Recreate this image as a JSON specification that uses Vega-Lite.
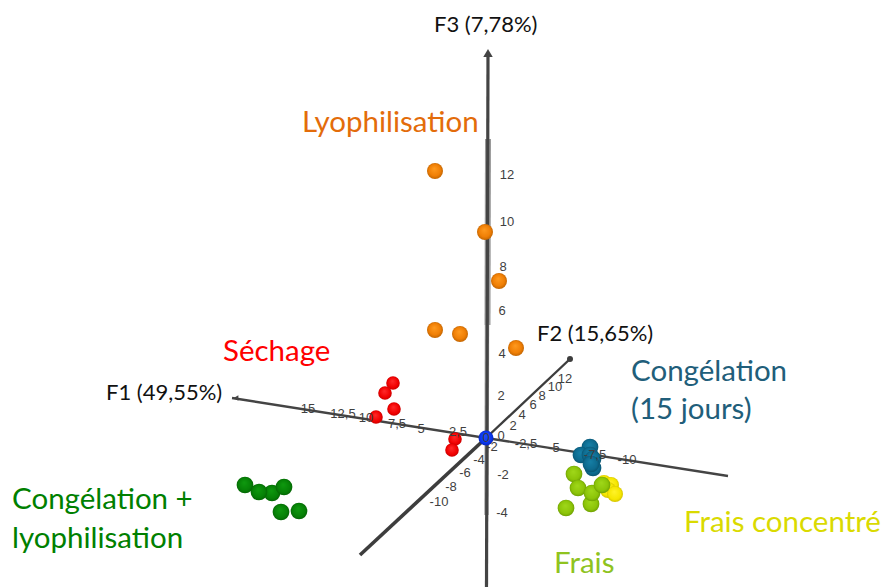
{
"$schema":"https://vega.github.io/schema/vega-lite/v6.json",
"width":881,"height":587,"padding":0,
"autosize":{"type":"none"},
"background":"white",
"config":{"view":{"stroke":null}},
"datasets":{
"points":[
{"g":"Lyophilisation","h":435,"v":171},{"g":"Lyophilisation","h":485,"v":232},{"g":"Lyophilisation","h":499,"v":281},{"g":"Lyophilisation","h":435,"v":330},{"g":"Lyophilisation","h":460,"v":334},{"g":"Lyophilisation","h":516,"v":348},
{"g":"Séchage","h":393,"v":383},{"g":"Séchage","h":385,"v":393},{"g":"Séchage","h":394,"v":409},{"g":"Séchage","h":376,"v":417},{"g":"Séchage","h":455,"v":439},{"g":"Séchage","h":452,"v":450},
{"g":"CL","h":272,"v":493},{"g":"CL","h":245,"v":485},{"g":"CL","h":259,"v":492},{"g":"CL","h":284,"v":487},{"g":"CL","h":281,"v":512},{"g":"CL","h":299,"v":511},
{"g":"C15","h":590,"v":447},{"g":"C15","h":581,"v":455},{"g":"C15","h":590,"v":455},{"g":"C15","h":593,"v":468},{"g":"C15","h":593,"v":459},{"g":"C15","h":591,"v":464},
{"g":"FC","h":604,"v":483},{"g":"FC","h":611,"v":485},{"g":"FC","h":608,"v":490},{"g":"FC","h":615,"v":494},
{"g":"Frais","h":574,"v":474},{"g":"Frais","h":578,"v":488},{"g":"Frais","h":591,"v":504},{"g":"Frais","h":592,"v":493},{"g":"Frais","h":602,"v":485},{"g":"Frais","h":566,"v":508},
{"g":"Origine","h":486,"v":438}
],
"axes":[
{"a":"F1","h":232,"v":398},{"a":"F1","h":728,"v":476},
{"a":"F2f","h":360,"v":555},{"a":"F2f","h":486,"v":438},
{"a":"F2b","h":486,"v":438},{"a":"F2b","h":570,"v":359},
{"a":"F3","h":488,"v":56},{"a":"F3","h":486.5,"v":587},
{"a":"F3w","h":488,"v":139},{"a":"F3w","h":487.5,"v":325},
{"a":"F3x","h":487,"v":325},{"a":"F3x","h":486.5,"v":515}
],
"ticks":[
{"t":"15","h":308,"v":409},{"t":"12,5","h":343,"v":414},{"t":"10","h":366,"v":418},{"t":"7,5","h":397,"v":424},{"t":"5","h":421,"v":429},{"t":"2,5","h":458,"v":432},{"t":"0","h":486,"v":438},
{"t":"-2,5","h":526,"v":444},{"t":"-5","h":554,"v":448},{"t":"-7,5","h":595,"v":455},{"t":"-10","h":627,"v":460},
{"t":"0","h":501,"v":436},{"t":"2","h":513,"v":426},{"t":"4","h":522,"v":415},{"t":"6","h":533,"v":405},{"t":"8","h":542,"v":396},{"t":"10","h":555,"v":387},{"t":"12","h":565,"v":379},
{"t":"-2","h":492,"v":447},{"t":"-4","h":479,"v":460},{"t":"-6","h":465,"v":473},{"t":"-8","h":451,"v":487},{"t":"-10","h":439,"v":502},
{"t":"12","h":507,"v":175},{"t":"10","h":507,"v":222},{"t":"8","h":503,"v":267},{"t":"6","h":502,"v":311},{"t":"4","h":502,"v":354},{"t":"2","h":501,"v":396},{"t":"-2","h":503,"v":475},{"t":"-4","h":502,"v":513}
],
"titles":[
{"t":"F3 (7,78%)","h":434,"v":25},{"t":"F2 (15,65%)","h":537,"v":334},{"t":"F1 (49,55%)","h":106,"v":393}
],
"groups":[
{"t":"Lyophilisation","g":"Lyo","h":302,"v":123},
{"t":"Séchage","g":"Sec","h":223,"v":352},
{"t":"Congélation","g":"C15","h":631,"v":372},
{"t":"(15 jours)","g":"C15","h":631,"v":410},
{"t":"Congélation +","g":"CL","h":12,"v":500},
{"t":"lyophilisation","g":"CL","h":12,"v":539},
{"t":"Frais concentré","g":"FC","h":684,"v":523},
{"t":"Frais","g":"Fr","h":554,"v":564}
],
"arrows":[{"a":"F3","h":488,"v":53}],
"arrowsL":[{"a":"F1","h":236,"v":398}],
"ends":[{"a":"F2","h":570,"v":359}]
},
"encoding":{
"x":{"field":"h","type":"quantitative","scale":{"domain":[0,881],"nice":false,"zero":false},"axis":null},
"y":{"field":"v","type":"quantitative","scale":{"domain":[587,0],"nice":false,"zero":false},"axis":null}
},
"layer":[
{"data":{"name":"axes"},"transform":[{"filter":"datum.a==='F3w'"}],"mark":{"type":"line","stroke":"#9a9a9a","strokeWidth":6}},
{"data":{"name":"axes"},"transform":[{"filter":"datum.a==='F3x'"}],"mark":{"type":"line","stroke":"#a8a8a8","strokeWidth":4.5}},
{"data":{"name":"axes"},"transform":[{"filter":"datum.a==='F3'"}],"mark":{"type":"line","stroke":"#444444","strokeWidth":3.2}},
{"data":{"name":"axes"},"transform":[{"filter":"datum.a==='F1'"}],"mark":{"type":"line","stroke":"#444444","strokeWidth":2.4}},
{"data":{"name":"axes"},"transform":[{"filter":"datum.a==='F2f'"}],"mark":{"type":"line","stroke":"#3d3d3d","strokeWidth":3.6}},
{"data":{"name":"axes"},"transform":[{"filter":"datum.a==='F2b'"}],"mark":{"type":"line","stroke":"#3d3d3d","strokeWidth":2.4}},
{"data":{"name":"arrows"},"mark":{"type":"point","shape":"triangle-up","filled":true,"fill":"#444444","stroke":null,"opacity":1,"size":90}},
{"data":{"name":"arrowsL"},"mark":{"type":"point","shape":"triangle-left","filled":true,"fill":"#444444","stroke":null,"opacity":1,"size":30}},
{"data":{"name":"ends"},"mark":{"type":"point","shape":"circle","filled":true,"fill":"#3d3d3d","stroke":null,"opacity":1,"size":36}},
{"data":{"name":"points"},"transform":[{"filter":"datum.g==='Lyophilisation'"}],"mark":{"type":"point","shape":"circle","filled":true,"opacity":1,"stroke":null,"size":256,"fill":{"gradient":"radial","x1":0.45,"y1":0.35,"r1":0,"x2":0.5,"y2":0.5,"r2":0.55,"stops":[{"offset":0,"color":"#ff9a1f"},{"offset":0.65,"color":"#f07f05"},{"offset":1,"color":"#b85f00"}]}}},
{"data":{"name":"points"},"transform":[{"filter":"datum.g==='Séchage'"}],"mark":{"type":"point","shape":"circle","filled":true,"opacity":1,"stroke":null,"size":185,"fill":{"gradient":"radial","x1":0.45,"y1":0.35,"r1":0,"x2":0.5,"y2":0.5,"r2":0.55,"stops":[{"offset":0,"color":"#ff2a2a"},{"offset":0.7,"color":"#f00000"},{"offset":1,"color":"#b80000"}]}}},
{"data":{"name":"points"},"transform":[{"filter":"datum.g==='CL'"}],"mark":{"type":"point","shape":"circle","filled":true,"opacity":1,"stroke":null,"size":280,"fill":{"gradient":"radial","x1":0.45,"y1":0.35,"r1":0,"x2":0.5,"y2":0.5,"r2":0.55,"stops":[{"offset":0,"color":"#0f9a0f"},{"offset":0.7,"color":"#068006"},{"offset":1,"color":"#035c03"}]}}},
{"data":{"name":"points"},"transform":[{"filter":"datum.g==='C15'"}],"mark":{"type":"point","shape":"circle","filled":true,"opacity":1,"stroke":null,"size":280,"fill":{"gradient":"radial","x1":0.45,"y1":0.35,"r1":0,"x2":0.5,"y2":0.5,"r2":0.55,"stops":[{"offset":0,"color":"#167fa6"},{"offset":0.7,"color":"#0d6a8e"},{"offset":1,"color":"#084d68"}]}}},
{"data":{"name":"points"},"transform":[{"filter":"datum.g==='FC'"}],"mark":{"type":"point","shape":"circle","filled":true,"opacity":1,"stroke":null,"size":256,"fill":{"gradient":"radial","x1":0.45,"y1":0.35,"r1":0,"x2":0.5,"y2":0.5,"r2":0.55,"stops":[{"offset":0,"color":"#fff22a"},{"offset":0.7,"color":"#f5e600"},{"offset":1,"color":"#c9b800"}]}}},
{"data":{"name":"points"},"transform":[{"filter":"datum.g==='Frais'"}],"mark":{"type":"point","shape":"circle","filled":true,"opacity":1,"stroke":null,"size":280,"fill":{"gradient":"radial","x1":0.45,"y1":0.35,"r1":0,"x2":0.5,"y2":0.5,"r2":0.55,"stops":[{"offset":0,"color":"#a0d81a"},{"offset":0.7,"color":"#8cc408"},{"offset":1,"color":"#659400"}]}}},
{"data":{"name":"points"},"transform":[{"filter":"datum.g==='Origine'"}],"mark":{"type":"point","shape":"circle","filled":true,"opacity":1,"stroke":null,"size":225,"fill":{"gradient":"radial","x1":0.45,"y1":0.35,"r1":0,"x2":0.5,"y2":0.5,"r2":0.55,"stops":[{"offset":0,"color":"#1a4dff"},{"offset":0.7,"color":"#0a36ee"},{"offset":1,"color":"#0522b0"}]}}},
{"data":{"name":"ticks"},"mark":{"type":"text","font":"Liberation Sans","fontSize":13,"fill":"#3f3f3f","align":"center","baseline":"middle"},"encoding":{"text":{"field":"t"}}},
{"data":{"name":"titles"},"mark":{"type":"text","font":"Lato","fontSize":22,"fill":"#111111","align":"left","baseline":"middle"},"encoding":{"text":{"field":"t"}}},
{"data":{"name":"groups"},"mark":{"type":"text","font":"Lato","fontSize":29.5,"align":"left","baseline":"middle"},"encoding":{"text":{"field":"t"},"color":{"field":"g","type":"nominal","legend":null,"scale":{"domain":["Lyo","Sec","C15","CL","FC","Fr"],"range":["#E36C0A","#FF0000","#215E7A","#008000","#DADA00","#8FC31F"]}}}}
]
}
